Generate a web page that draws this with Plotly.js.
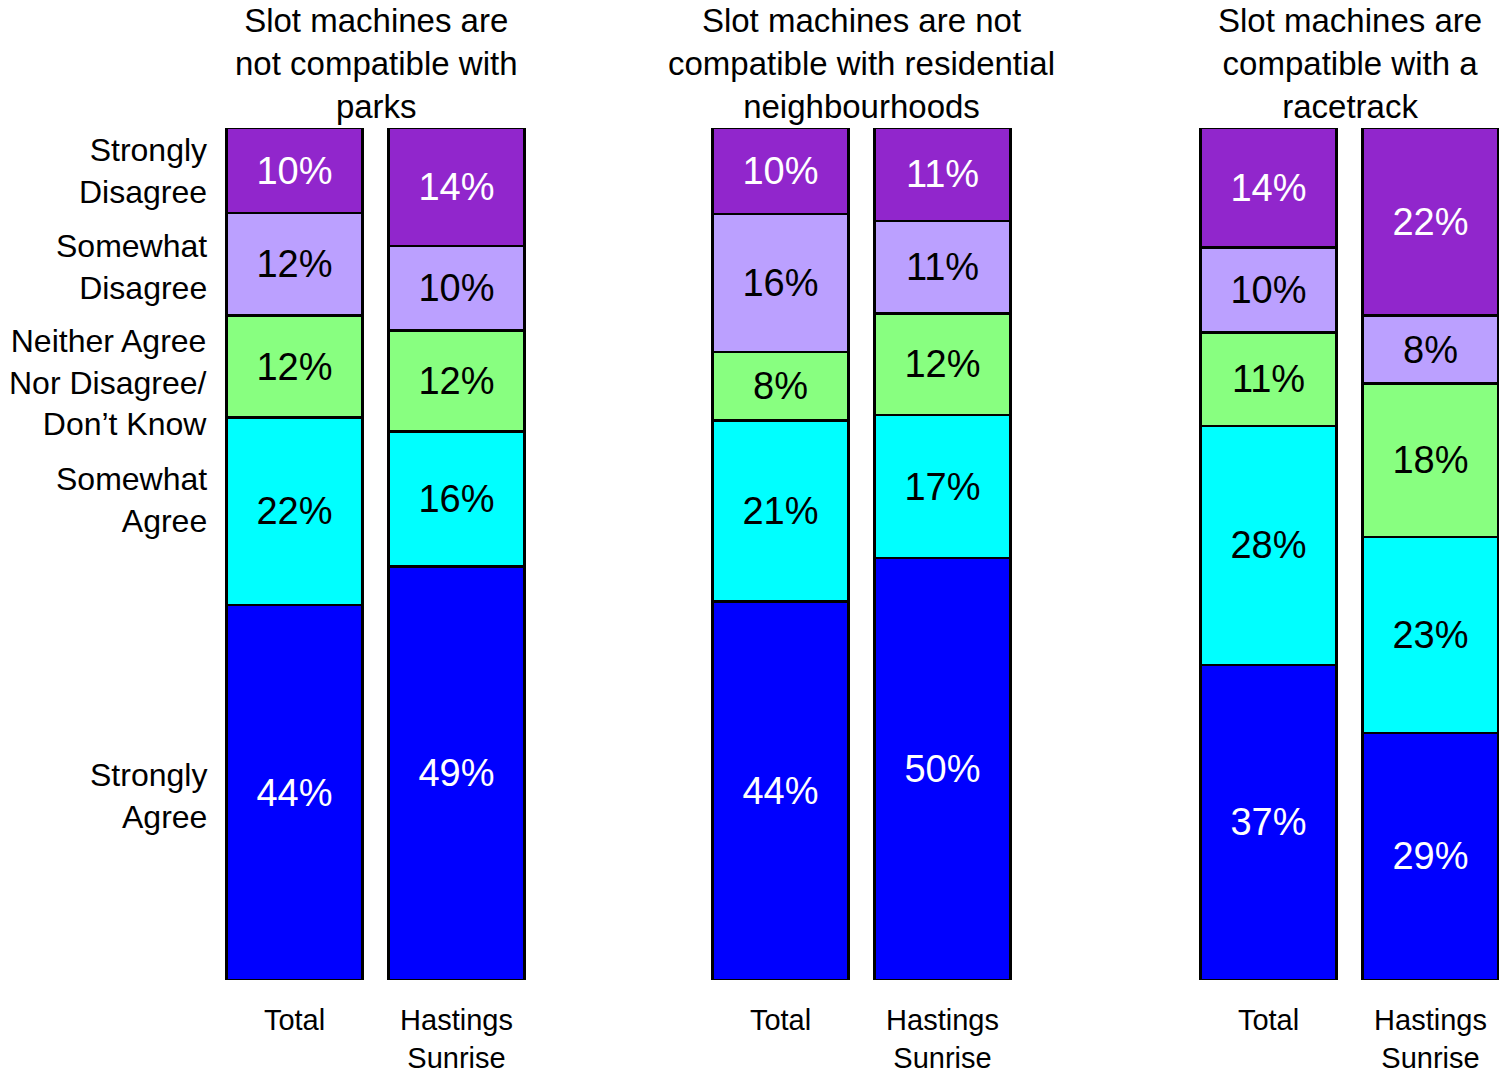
<!DOCTYPE html>
<html>
<head>
<meta charset="utf-8">
<script src="https://cdn.plot.ly/plotly-3.0.1.min.js"></script>
<style>html,body{margin:0;padding:0;background:#fff;}</style>
</head>
<body>
<div id="chart" style="width:1499px;height:1076px;"></div>
<script>
// ---- data ----
const barLabels = ['Total', 'Hastings<br>Sunrise'];
const groupTitles = [
  'Slot machines are<br>not compatible with<br>parks',
  'Slot machines are not<br>compatible with residential<br>neighbourhoods',
  'Slot machines are<br>compatible with a<br>racetrack'
];
const segmentNames = ['Strongly<br>Agree', 'Somewhat<br>Agree', 'Neither Agree<br>Nor Disagree/<br>Don\u2019t Know', 'Somewhat<br>Disagree', 'Strongly<br>Disagree'];
// values per group: [Total, Hastings Sunrise]
const stronglyAgree    = [[44, 49], [44, 50], [37, 29]];
const somewhatAgree    = [[22, 16], [21, 17], [28, 23]];
const neither          = [[12, 12], [8, 12], [11, 18]];
const somewhatDisagree = [[12, 10], [16, 11], [10, 8]];
const stronglyDisagree = [[10, 14], [10, 11], [14, 22]];

// ---- styles ----
const segColors = ['#0000FF', '#00FFFF', '#88FF80', '#BBA0FF', '#9126CC'];
const segTextColors = ['#FFFFFF', '#000000', '#000000', '#000000', '#FFFFFF'];
const labelShift = [-3, 11, -16, -3, 0];
const FONT = 'Liberation Sans, Arial, sans-serif';

const series = [stronglyAgree, somewhatAgree, neither, somewhatDisagree, stronglyDisagree];
const traces = [];
for (let g = 0; g < 3; g++) {
  const ax = g === 0 ? '' : String(g + 1);
  series.forEach((s, i) => {
    traces.push({
      type: 'bar',
      x: barLabels,
      y: s[g],
      text: s[g].map(v => v + '%'),
      textposition: 'inside',
      insidetextanchor: 'middle',
      textangle: 0,
      constraintext: 'none',
      textfont: {family: FONT, size: 38, color: segTextColors[i]},
      marker: {color: segColors[i], line: {color: '#000000', width: 2.5}},
      xaxis: 'x' + ax,
      yaxis: 'y' + ax,
      showlegend: false,
      hoverinfo: 'skip'
    });
  });
}

const W = 1499;
const domains = [[213.5 / W, 537.5 / W], [699.5 / W, 1023.5 / W], [1187.5 / W, 1]];
const ranges = [[-0.5, 1.5], [-0.5, 1.5], [-0.5, -0.5 + 311.5 / 162]];

const layout = {
  width: 1499, height: 1076,
  margin: {l: 0, r: 0, t: 128, b: 96},
  paper_bgcolor: '#FFFFFF', plot_bgcolor: '#FFFFFF',
  barmode: 'stack', barnorm: 'percent', bargap: 0.16,
  font: {family: FONT, color: '#000000'},
  showlegend: false,
  annotations: []
};
for (let g = 0; g < 3; g++) {
  const ax = g === 0 ? '' : String(g + 1);
  layout['xaxis' + ax] = {
    domain: domains[g], range: ranges[g], type: 'category',
    showline: false, showgrid: false, zeroline: false, ticks: '',
    tickfont: {family: FONT, size: 29, color: '#000000'},
    ticklabelstandoff: 20,
    anchor: 'y' + ax, fixedrange: true
  };
  layout['yaxis' + ax] = {
    range: [0, 100], visible: false, showgrid: false, zeroline: false,
    anchor: 'x' + ax, fixedrange: true
  };
  layout.annotations.push({
    text: groupTitles[g], xref: 'x' + ax, x: 0.5, yref: 'paper', y: (980 - 1) / 852,
    xanchor: 'center', yanchor: 'top', showarrow: false, align: 'center', borderpad: 0,
    font: {family: FONT, size: 33, color: '#000000'}
  });
}
// left segment labels, at the midpoints of the first bar's segments
let cum = 0;
const total0 = series.reduce((a, s) => a + s[0][0], 0);
series.forEach((s, i) => {
  const v = s[0][0] / total0 * 100;
  layout.annotations.push({
    text: segmentNames[i], xref: 'paper', x: 209 / W, yref: 'y', y: cum + v / 2,
    yshift: labelShift[i],
    xanchor: 'right', yanchor: 'middle', showarrow: false, align: 'right',
    font: {family: FONT, size: 32, color: '#000000'}
  });
  cum += v;
});

Plotly.newPlot('chart', traces, layout, {displayModeBar: false, staticPlot: true});
</script>
</body>
</html>
